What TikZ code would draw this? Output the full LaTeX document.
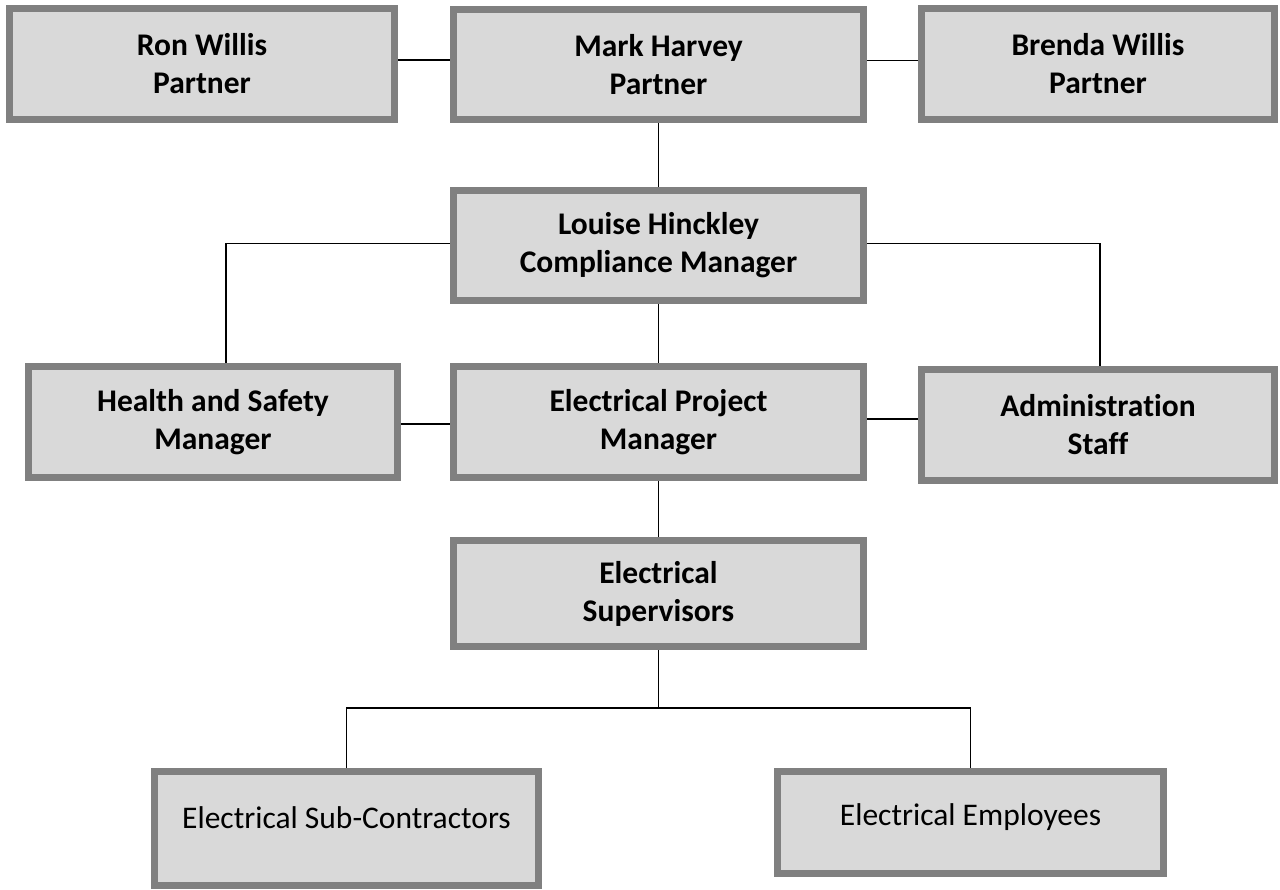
\documentclass[tikz,border=0pt]{standalone}
\usepackage{fontspec}
\setmainfont{Carlito}[Ligatures=NoCommon]
\usetikzlibrary{backgrounds}
\definecolor{boxfill}{HTML}{D9D9D9}
\definecolor{boxline}{HTML}{808080}
\begin{document}
\begin{tikzpicture}[x=1pt,y=-1pt,
  orgbox/.style={draw=boxline, fill=boxfill, line width=7.5pt, inner sep=0pt,
    align=center, font=\fontsize{31.5}{38}\selectfont\bfseries},
  plainbox/.style={draw=boxline, fill=boxfill, line width=7.5pt, inner sep=0pt,
    align=center, font=\fontsize{31.5}{38}\selectfont},
  link/.style={draw=black, line width=1.6pt}]
\useasboundingbox (0,0) rectangle (1280,890);

\node[orgbox, minimum width=385pt, minimum height=111pt] (ron) at (202,64) {Ron Willis\\Partner};
\node[orgbox, minimum width=410pt, minimum height=110pt] (mark) at (658.5,64.5) {Mark Harvey\\Partner};
\node[orgbox, minimum width=353pt, minimum height=111pt] (brenda) at (1098,64) {Brenda Willis\\Partner};
\node[orgbox, minimum width=410pt, minimum height=110pt] (louise) at (658.5,245.5) {Louise Hinckley\\Compliance Manager};
\node[orgbox, minimum width=369pt, minimum height=111pt] (hs) at (213,422) {Health and Safety\\Manager};
\node[orgbox, minimum width=410pt, minimum height=111pt] (epm) at (658.5,422) {Electrical Project\\Manager};
\node[orgbox, minimum width=353pt, minimum height=111pt] (admin) at (1098,425) {Administration\\Staff};
\node[orgbox, minimum width=410pt, minimum height=106pt] (sup) at (658.5,593.5) {Electrical\\Supervisors};
\node[plainbox, minimum width=384pt, minimum height=114pt,
  label={[plainbox, draw=none, fill=none, yshift=11pt]center:Electrical Sub-Contractors}] (sub) at (346.5,828.5) {};
\node[plainbox, minimum width=386pt, minimum height=102pt,
  label={[plainbox, draw=none, fill=none, yshift=5pt]center:Electrical Employees}] (emp) at (970.5,822.5) {};
\coordinate (j) at (658.5,708);

\begin{scope}[on background layer]
\fill[white] (0,0) rectangle (1280,890);
\draw[link] ([yshift=4pt]ron.east) -- ([yshift=4pt]ron.east -| mark.west);
\draw[link] ([yshift=4pt]mark.east) -- ([yshift=4pt]mark.east -| brenda.west);
\draw[link] (mark.south) -- (louise.north);
\draw[link] ([yshift=2pt]louise.west) -| ([xshift=13pt]hs.north);
\draw[link] ([yshift=2pt]louise.east) -| ([xshift=2pt]admin.north);
\draw[link] (louise.south) -- (epm.north);
\draw[link] ([yshift=-2pt]hs.east) -- ([yshift=-2pt]hs.east -| epm.west);
\draw[link] ([yshift=3pt]epm.east) -- ([yshift=3pt]epm.east -| admin.west);
\draw[link] (epm.south) -- (sup.north);
\draw[link] (sup.south) -- (j);
\draw[link] (sub.north) |- (j) -| (emp.north);
\end{scope}
\end{tikzpicture}
\end{document}
